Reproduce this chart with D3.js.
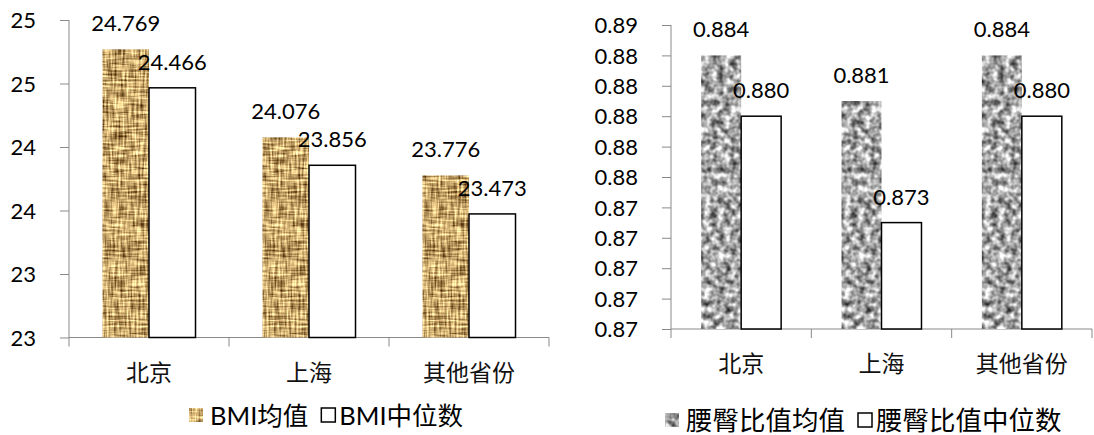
<!DOCTYPE html>
<html>
<head>
<meta charset="utf-8">
<script src="https://cdn.jsdelivr.net/npm/d3@7"></script>
<style>
  body { margin: 0; background: #fff; }
  svg { display: block; }
  .num { font-family: Lato, "Open Sans", sans-serif; font-size: 22px; fill: #000; }
  .cat { font-family: "Noto Sans CJK SC", sans-serif; font-size: 23px; fill: #111; }
  .leg { font-family: Lato, "Noto Sans CJK SC", sans-serif; font-size: 25.5px; fill: #000; }
</style>
</head>
<body>
<svg id="chart" width="1094" height="435"></svg>
<script>
// categories shared by both panels
const categories = ['北京', '上海', '其他省份'];

// left panel: BMI
const bmiMean = [24.769, 24.076, 23.776];
const bmiMedian = [24.466, 23.856, 23.473];
const bmiTicks = [22.5, 23, 23.5, 24, 24.5, 25];
const bmiTickLabels = ['23', '23', '24', '24', '25', '25'];
const bmiSeries = ['BMI均值', 'BMI中位数'];

// right panel: waist-hip ratio
const whrMean = [0.884, 0.881, 0.884];
const whrMedian = [0.880, 0.873, 0.880];
const whrTicks = [0.866, 0.868, 0.870, 0.872, 0.874, 0.876, 0.878, 0.880, 0.882, 0.884, 0.886];
const whrTickLabels = ['0.87', '0.87', '0.87', '0.87', '0.87', '0.88', '0.88', '0.88', '0.88', '0.88', '0.89'];
const whrSeries = ['腰臀比值均值', '腰臀比值中位数'];

const svg = d3.select('#chart');
const axisColor = '#898989';

/**
 * textured fills: a noise filter clipped to the shape
 */
const defs = svg.append('defs');
function noiseFilter(id, freqs, octaves, matrix){
    const f = defs.append('filter')
        .attr('id', id)
        .attr('x', 0).attr('y', 0).attr('width', 1).attr('height', 1)
        .attr('color-interpolation-filters', 'sRGB');
    freqs.forEach((fr, i) => {
        f.append('feTurbulence')
            .attr('type', 'fractalNoise')
            .attr('baseFrequency', fr)
            .attr('numOctaves', octaves)
            .attr('seed', 3 + i * 4)
            .attr('result', 't' + i);
        // make the noise opaque so later steps see plain values
        f.append('feColorMatrix').attr('in', 't' + i).attr('type', 'matrix')
            .attr('values', '1 0 0 0 0  1 0 0 0 0  1 0 0 0 0  0 0 0 0 1')
            .attr('result', 'n' + i);
    });
    let last = 'n0';
    if(freqs.length > 1){
        f.append('feComposite').attr('in', 'n0').attr('in2', 'n1')
            .attr('operator', 'arithmetic')
            .attr('k1', 0).attr('k2', 0.5).attr('k3', 0.5).attr('k4', 0)
            .attr('result', 'avg');
        last = 'avg';
    }
    f.append('feColorMatrix').attr('in', last).attr('type', 'matrix').attr('values', matrix).attr('result', 'col');
    f.append('feComposite').attr('in', 'col').attr('in2', 'SourceGraphic').attr('operator', 'in');
}
// woven gold
noiseFilter('gold', ['0.05 0.5', '0.5 0.05'], 2,
    '1.9 0 0 0 -0.17  1.9 0 0 0 -0.30  1.6 0 0 0 -0.38  0 0 0 0 1');
// granite gray
noiseFilter('granite', ['0.15 0.15'], 2,
    '1.4 0 0 0 -0.05  1.4 0 0 0 -0.05  1.4 0 0 0 -0.05  0 0 0 0 1');

/**
 * draw one clustered bar panel
 */
function drawPanel(opt){
    const g = svg.append('g');
    const x = d3.scaleBand().domain(categories).range([opt.left, opt.right]);
    const gapRatio = opt.gap;
    const barW = x.bandwidth() / (2 + gapRatio);
    const sub = d3.scaleBand().domain([0, 1])
        .range([barW * gapRatio / 2, barW * gapRatio / 2 + 2 * barW]);
    const y = d3.scaleLinear().domain(opt.domain).range([opt.bottom, opt.top]);

    // y axis
    const yAxis = d3.axisLeft(y)
        .tickValues(opt.ticks)
        .tickFormat((d, i) => opt.tickLabels[i])
        .tickSize(9)
        .tickPadding(24);
    const ya = g.append('g').attr('transform', `translate(${opt.left},0)`).call(yAxis);
    ya.select('.domain').attr('d', `M0,${opt.top}V${opt.bottom}`).attr('stroke', axisColor);
    ya.selectAll('.tick line').attr('stroke', axisColor);
    ya.selectAll('.tick text').attr('class', 'num').attr('font-size', null).attr('font-family', null)
        .attr('dy', '0.35em');

    // x axis
    const xa = g.append('g').attr('transform', `translate(0,${opt.bottom})`);
    xa.append('line')
        .attr('x1', opt.left).attr('x2', opt.right)
        .attr('stroke', axisColor);
    const edges = categories.map(c => x(c)).concat([opt.right]);
    xa.selectAll('line.tk').data(edges).enter().append('line')
        .attr('class', 'tk')
        .attr('x1', d => d).attr('x2', d => d)
        .attr('y1', 0).attr('y2', 9)
        .attr('stroke', axisColor);
    xa.selectAll('text').data(categories).enter().append('text')
        .attr('class', 'cat')
        .attr('x', d => x(d) + x.bandwidth() / 2)
        .attr('y', 33)
        .attr('text-anchor', 'middle')
        .attr('dominant-baseline', 'central')
        .text(d => d);

    // bars
    const rows = categories.map((c, i) => ({c: c, v: [opt.mean[i], opt.median[i]]}));
    const cl = g.selectAll('g.cl').data(rows).enter().append('g')
        .attr('class', 'cl')
        .attr('transform', d => `translate(${x(d.c)},0)`);
    cl.append('rect')
        .attr('x', sub(0)).attr('width', barW)
        .attr('y', d => y(d.v[0]))
        .attr('height', d => opt.bottom - y(d.v[0]))
        .attr('fill', '#fff')
        .attr('filter', `url(#${opt.texture})`);
    cl.append('rect')
        .attr('x', sub(1)).attr('width', barW)
        .attr('y', d => y(d.v[1]))
        .attr('height', d => opt.bottom - y(d.v[1]))
        .attr('fill', '#fff')
        .attr('stroke', '#000')
        .attr('stroke-width', 1.5);
    // data labels
    [0, 1].forEach(k => {
        cl.append('text')
            .attr('class', 'num')
            .attr('x', sub(k) + barW / 2)
            .attr('y', d => y(d.v[k]) - 18)
            .attr('text-anchor', 'middle')
            .text(d => d3.format('.3f')(d.v[k]));
    });

    // legend
    const lg = g.append('g').attr('transform', `translate(${opt.legendX},${opt.legendY})`);
    lg.append('rect').attr('x', 0).attr('y', -7).attr('width', 14).attr('height', 14)
        .attr('fill', '#fff').attr('filter', `url(#${opt.texture})`);
    const t1 = lg.append('text').attr('class', 'leg').attr('x', 21)
        .style('font-size', opt.legendSize + 'px')
        .attr('dominant-baseline', 'central').text(opt.series[0]);
    const w1 = t1.node().getComputedTextLength();
    const x2 = 21 + w1 + 13;
    lg.append('rect').attr('x', x2).attr('y', -7).attr('width', 14).attr('height', 14)
        .attr('fill', '#fff').attr('stroke', '#000').attr('stroke-width', 1.5);
    lg.append('text').attr('class', 'leg').attr('x', x2 + 18)
        .style('font-size', opt.legendSize + 'px')
        .attr('dominant-baseline', 'central').text(opt.series[1]);
}

drawPanel({
    left: 69, right: 549, top: 20, bottom: 337.5,
    gap: 1.44,
    domain: [22.5, 25],
    ticks: bmiTicks, tickLabels: bmiTickLabels,
    mean: bmiMean, median: bmiMedian,
    series: bmiSeries, texture: 'gold',
    legendX: 189, legendY: 415, legendSize: 25.5
});

drawPanel({
    left: 671, right: 1092, top: 25, bottom: 329,
    gap: 1.51,
    domain: [0.866, 0.886],
    ticks: whrTicks, tickLabels: whrTickLabels,
    mean: whrMean, median: whrMedian,
    series: whrSeries, texture: 'granite',
    legendX: 665, legendY: 420, legendSize: 26.5
});
</script>
</body>
</html>
